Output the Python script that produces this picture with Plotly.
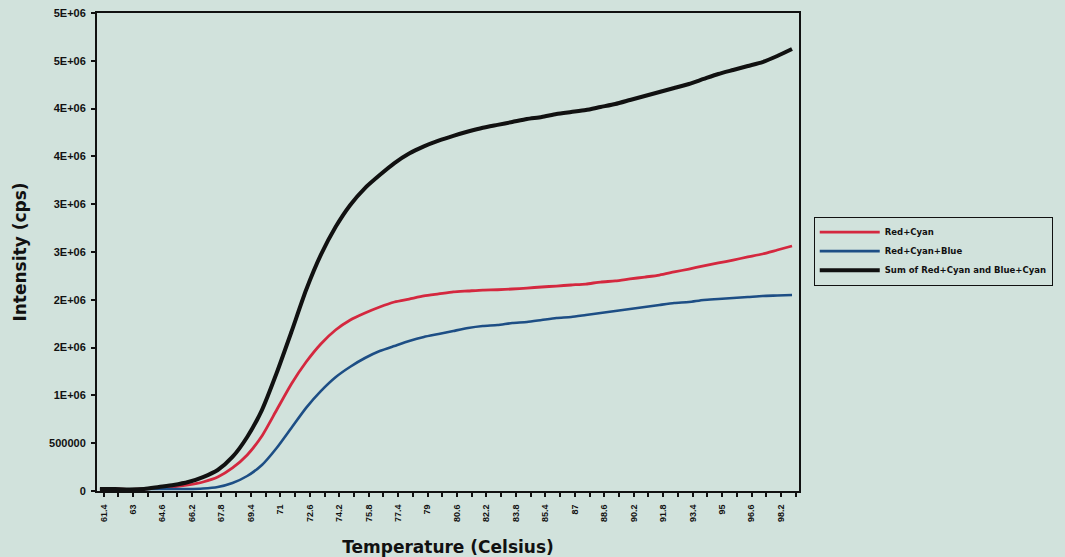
import plotly.graph_objects as go

# Melting-curve readings: temperature (deg C) and intensity (cps)
temperature = [
    61.2, 62.0, 62.8, 63.6, 64.4, 65.2, 66.0, 66.8, 67.6, 68.4, 69.2, 70.0,
    70.8, 71.6, 72.4, 73.2, 74.0, 74.8, 75.6, 76.4, 77.2, 78.0, 78.8, 79.6,
    80.4, 81.2, 82.0, 82.8, 83.6, 84.4, 85.2, 86.0, 86.8, 87.6, 88.4, 89.2,
    90.0, 90.8, 91.6, 92.4, 93.2, 94.0, 94.8, 95.6, 96.4, 97.2, 98.0, 98.8,
]

red_cyan = [
    21000, 21000, 16000, 21000, 31000, 42000, 63000, 94000, 146000, 241000,
    377000, 575000, 847000, 1119000, 1349000, 1538000, 1684000, 1789000,
    1862000, 1925000, 1977000, 2008000, 2040000, 2061000, 2082000, 2092000,
    2102000, 2105000, 2113000, 2123000, 2134000, 2144000, 2155000, 2165000,
    2186000, 2197000, 2218000, 2238000, 2259000, 2291000, 2322000, 2354000,
    2385000, 2416000, 2448000, 2479000, 2521000, 2563000,
]

red_cyan_blue = [
    21000, 21000, 16000, 21000, 21000, 21000, 21000, 26000, 42000, 84000,
    157000, 272000, 450000, 660000, 870000, 1045000, 1190000, 1300000,
    1391000, 1464000, 1517000, 1569000, 1611000, 1642000, 1674000, 1705000,
    1726000, 1736000, 1757000, 1768000, 1789000, 1810000, 1820000, 1841000,
    1862000, 1883000, 1904000, 1925000, 1946000, 1966000, 1977000, 1998000,
    2008000, 2019000, 2029000, 2040000, 2045000, 2050000,
]

sum_series = [
    21000, 21000, 16000, 21000, 42000, 63000, 94000, 146000, 220000, 356000,
    565000, 847000, 1234000, 1663000, 2102000, 2469000, 2761000, 2992000,
    3169000, 3305000, 3430000, 3530000, 3605000, 3665000, 3715000, 3760000,
    3800000, 3830000, 3860000, 3891000, 3912000, 3943000, 3964000, 3985000,
    4017000, 4048000, 4090000, 4132000, 4174000, 4215000, 4257000, 4310000,
    4362000, 4404000, 4446000, 4487000, 4550000, 4623000,
]

x_tick_values = [
    61.4, 63.0, 64.6, 66.2, 67.8, 69.4, 71.0, 72.6, 74.2, 75.8, 77.4, 79.0,
    80.6, 82.2, 83.8, 85.4, 87.0, 88.6, 90.2, 91.8, 93.4, 95.0, 96.6, 98.2,
]
x_tick_labels = [
    "61.4", "63", "64.6", "66.2", "67.8", "69.4", "71", "72.6", "74.2", "75.8",
    "77.4", "79", "80.6", "82.2", "83.8", "85.4", "87", "88.6", "90.2", "91.8",
    "93.4", "95", "96.6", "98.2",
]

y_tick_values = [0, 500000, 1000000, 1500000, 2000000, 2500000, 3000000,
                 3500000, 4000000, 4500000, 5000000]
y_tick_labels = ["0", "500000", "1E+06", "2E+06", "2E+06", "3E+06", "3E+06",
                 "4E+06", "4E+06", "5E+06", "5E+06"]

BG = "#d1e2dc"
NARROW = "Liberation Sans Narrow, Arial Narrow, sans-serif"
HEAVY = "DejaVu Sans, Verdana, sans-serif"

fig = go.Figure()
fig.add_trace(go.Scatter(
    x=temperature, y=red_cyan, mode="lines", name="Red+Cyan",
    line=dict(color="#d4283f", width=2.8, shape="spline", smoothing=0.6),
))
fig.add_trace(go.Scatter(
    x=temperature, y=red_cyan_blue, mode="lines", name="Red+Cyan+Blue",
    line=dict(color="#1d4e85", width=2.6, shape="spline", smoothing=0.6),
))
fig.add_trace(go.Scatter(
    x=temperature, y=sum_series, mode="lines",
    name="Sum of Red+Cyan and Blue+Cyan",
    line=dict(color="#111111", width=4, shape="spline", smoothing=0.6),
))

fig.update_layout(
    width=1065, height=557,
    margin=dict(l=97, r=262, t=13, b=66),
    paper_bgcolor=BG, plot_bgcolor=BG,
    showlegend=True,
    legend=dict(
        x=1.021, y=0.574, xanchor="left", yanchor="top",
        bgcolor=BG, bordercolor="#111111", borderwidth=1,
        font=dict(family=HEAVY, size=8.5, color="#111111", weight="bold"),
        itemwidth=60, tracegroupgap=2,
    ),
    xaxis=dict(
        range=[61.04, 99.18], automargin=False,
        tickmode="array", tickvals=x_tick_values, ticktext=x_tick_labels,
        tickangle=-90,
        tickfont=dict(family=NARROW, size=9, color="#111111", weight="bold"),
        ticks="outside", ticklen=4, tickwidth=1.5, tickcolor="#111111",
        ticklabelstandoff=4,
        minor=dict(ticks="outside", ticklen=4, tickwidth=1.5,
                   tickcolor="#111111", tick0=60.6, dtick=0.8),
        showline=True, linecolor="#111111", linewidth=2, mirror=True,
        showgrid=False, zeroline=False,
        title=dict(text="Temperature (Celsius)", standoff=22,
                   font=dict(family=HEAVY, size=17, color="#111111",
                             weight="bold")),
    ),
    yaxis=dict(
        range=[0, 5000000], automargin=False,
        tickmode="array", tickvals=y_tick_values, ticktext=y_tick_labels,
        tickfont=dict(family=NARROW, size=11, color="#111111", weight="bold"),
        ticks="outside", ticklen=4, tickwidth=1.5, tickcolor="#111111",
        ticklabelstandoff=3,
        showline=True, linecolor="#111111", linewidth=2, mirror=True,
        showgrid=False, zeroline=False,
        title=dict(text="Intensity (cps)", standoff=18,
                   font=dict(family=HEAVY, size=17, color="#111111",
                             weight="bold")),
    ),
)

fig.write_html("out.html")
